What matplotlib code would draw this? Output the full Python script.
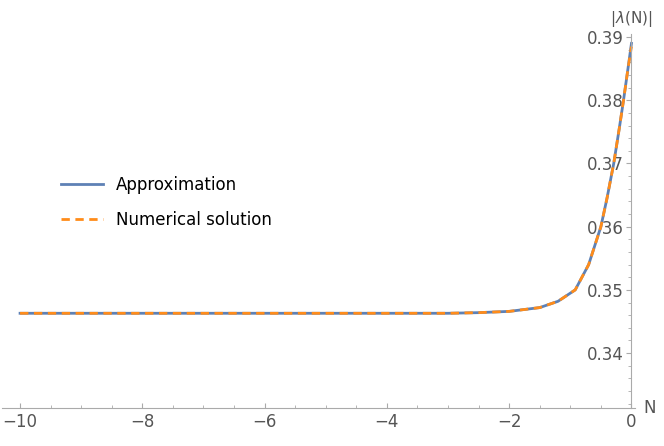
import matplotlib
matplotlib.use("Agg")
import matplotlib.pyplot as plt
from matplotlib.ticker import MultipleLocator

N_vals = [-10, -6, -4, -3, -2.5, -2, -1.5, -1.2, -0.92, -0.7, -0.5, -0.4, -0.29, -0.2, -0.13, -0.06, 0]
approx = [0.3463, 0.3463, 0.3463, 0.3463, 0.3464, 0.3466, 0.3472, 0.3482, 0.3500, 0.3540, 0.3600, 0.3645, 0.3700, 0.3755, 0.3800, 0.3848, 0.3890]
numerical = [0.3463, 0.3463, 0.3463, 0.3463, 0.3464, 0.3466, 0.3472, 0.3482, 0.3500, 0.3540, 0.3600, 0.3645, 0.3700, 0.3755, 0.3800, 0.3848, 0.3885]

fig = plt.figure(figsize=(6.64, 4.46), dpi=100)
ax = fig.add_axes([0.0026, 0.085, 0.953, 0.839])
ax.plot(N_vals, approx, color="#5E81B5", lw=2, label="Approximation")
ax.plot(N_vals, numerical, color="#FF8C1A", lw=2, ls=(0, (3, 2)), label="Numerical solution")
ax.set_xlim(-10.3, 0.05)
ax.set_ylim(0.3313, 0.3905)
ax.spines['top'].set_visible(False)
ax.spines['right'].set_visible(False)
ax.spines['left'].set_position(('data', 0))
ax.spines['bottom'].set_position(('data', 0.3313))
for s in ('left', 'bottom'):
    ax.spines[s].set_color("#aaaaaa")
ax.xaxis.set_minor_locator(MultipleLocator(0.5))
ax.yaxis.set_minor_locator(MultipleLocator(0.002))
ax.set_xticks([-10, -8, -6, -4, -2, 0])
ax.set_xticklabels(["\u221210", "\u22128", "\u22126", "\u22124", "\u22122", "0"])
ax.set_yticks([0.34, 0.35, 0.36, 0.37, 0.38, 0.39])
ax.set_yticklabels(["0.34", "0.35", "0.36", "0.37", "0.38", "0.39"])
ax.tick_params(axis='both', which='both', colors="#aaaaaa", labelcolor="#555555", labelsize=12)
ax.tick_params(axis='x', which='both', direction='in')
ax.tick_params(axis='y', which='both', direction='out', pad=2)
ax.text(0.0, 0.3912, r"|$\lambda$(N)|", ha='center', va='bottom', fontsize=11, color="#555555", clip_on=False)
ax.text(0.2, 0.3313, "N", ha='left', va='center', fontsize=12, color="#555555")
ax.legend(loc='center left', bbox_to_anchor=(0.07, 0.55), frameon=False, fontsize=12, handlelength=2.5, labelspacing=1.0)
fig.savefig("out.png")
